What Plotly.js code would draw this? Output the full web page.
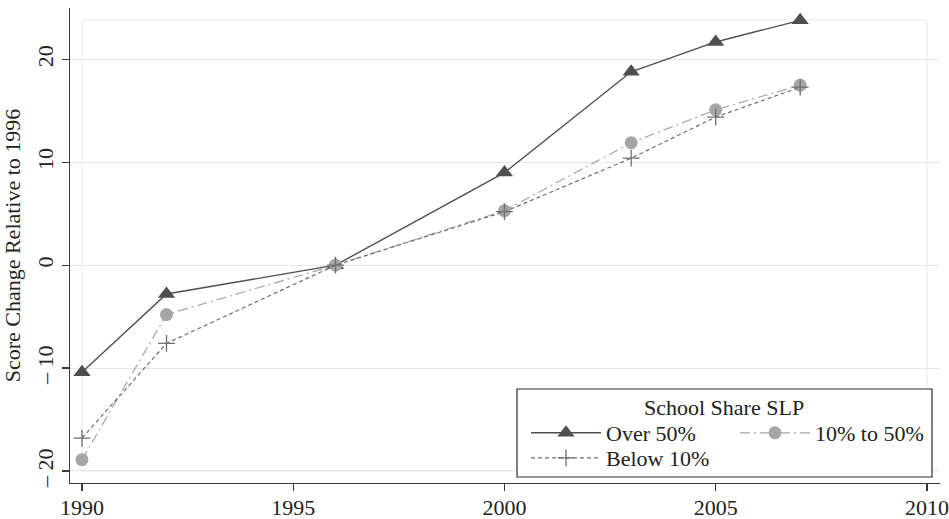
<!DOCTYPE html>
<html>
<head>
<meta charset="utf-8">
<script src="https://cdn.plot.ly/plotly-3.0.1.min.js"></script>
<style>html,body{margin:0;padding:0;background:#fff;}#chart{width:949px;height:519px;}</style>
</head>
<body>
<div id="chart"></div>
<script>
var years = [1990, 1992, 1996, 2000, 2003, 2005, 2007];
var over50 = [-10.4, -2.8, 0, 9.0, 18.8, 21.7, 23.8];
var mid10to50 = [-18.9, -4.8, 0, 5.3, 11.9, 15.1, 17.5];
var below10 = [-16.8, -7.6, 0, 5.2, 10.4, 14.4, 17.3];
var seriesNames = ["Over 50%", "10% to 50%", "Below 10%"];
var legendTitle = "School Share SLP";
var yTitle = "Score Change Relative to 1996";
var xTickVals = [1990, 1995, 2000, 2005, 2010];
var xTickText = ["1990", "1995", "2000", "2005", "2010"];
var yTickVals = [-20, -10, 0, 10, 20];
var yTickText = ["\u2013 20", "\u2013 10", "0", "10", "20"];

var FONT = "Liberation Serif";
var TXT = "#222";
var FS = 22;

var traces = [
  {x: years, y: over50, name: seriesNames[0], type: "scatter", mode: "lines+markers",
   line: {color: "#4f4f4f", width: 1.4},
   marker: {symbol: "triangle-up", size: 15, color: "#4f4f4f"},
   legend: "legend"},
  {x: years, y: mid10to50, name: seriesNames[1], type: "scatter", mode: "lines+markers",
   line: {color: "#a6a6a6", width: 1.2, dash: "10px,4px,2px,4px"},
   marker: {symbol: "circle", size: 13, color: "#a6a6a6"},
   legend: "legend2"},
  {x: years, y: below10, name: seriesNames[2], type: "scatter", mode: "lines+markers",
   line: {color: "#6e6e6e", width: 1.2, dash: "4px,3px"},
   marker: {symbol: "cross-thin", size: 12, color: "#6e6e6e", line: {color: "#6e6e6e", width: 1.3}},
   legend: "legend3"}
];

function leg(px, py) {
  return {
    x: (px - 70) / 870, xanchor: "left", y: (483 - py) / 475, yanchor: "middle",
    bgcolor: "rgba(0,0,0,0)", borderwidth: 0, orientation: "v", itemwidth: 70,
    font: {family: FONT, size: FS, color: TXT}
  };
}

var layout = {
  width: 949, height: 519,
  margin: {l: 70, r: 9, t: 8, b: 36},
  paper_bgcolor: "#fff", plot_bgcolor: "#fff",
  font: {family: FONT, size: FS, color: TXT},
  showlegend: true,
  xaxis: {
    range: [1989.716, 2010.31], tickvals: xTickVals, ticktext: xTickText,
    showgrid: false, zeroline: false, showline: true, linecolor: "#3a3a3a", linewidth: 1.3,
    ticks: "outside", ticklen: 7, tickcolor: "#3a3a3a", tickwidth: 1.2,
    ticklabelstandoff: -3,
    tickfont: {family: FONT, size: FS, color: TXT}
  },
  yaxis: {
    range: [-21.17, 25.0], tickvals: yTickVals, ticktext: yTickText, tickangle: -90,
    showgrid: true, gridcolor: "#e6e6e6", gridwidth: 1, zeroline: false,
    showline: true, linecolor: "#3a3a3a", linewidth: 1.3,
    ticks: "outside", ticklen: 7, tickcolor: "#3a3a3a", tickwidth: 1.2,
    tickfont: {family: FONT, size: FS, color: TXT},
    title: {text: yTitle, font: {family: FONT, size: FS, color: TXT}, standoff: 6}
  },
  legend: leg(526, 433),
  legend2: leg(735, 433),
  legend3: leg(526, 458),
  shapes: [
    {type: "rect", xref: "x", yref: "y", x0: 1990, x1: 2010, y0: -20, y1: 23.83,
     line: {color: "#e6e6e6", width: 1}, layer: "below"},
    {type: "rect", xref: "paper", yref: "paper",
     x0: (517 - 70) / 870, x1: (932 - 70) / 870, y0: (483 - 477) / 475, y1: (483 - 389) / 475,
     line: {color: "#2a2a2a", width: 1.2}, fillcolor: "#fff", layer: "above"}
  ],
  annotations: [
    {text: legendTitle, xref: "paper", yref: "paper", x: (724 - 70) / 870, y: (483 - 407) / 475,
     xanchor: "center", yanchor: "middle", showarrow: false,
     font: {family: FONT, size: FS, color: TXT}}
  ]
};

Plotly.newPlot("chart", traces, layout, {displayModeBar: false, staticPlot: true});
</script>
</body>
</html>
